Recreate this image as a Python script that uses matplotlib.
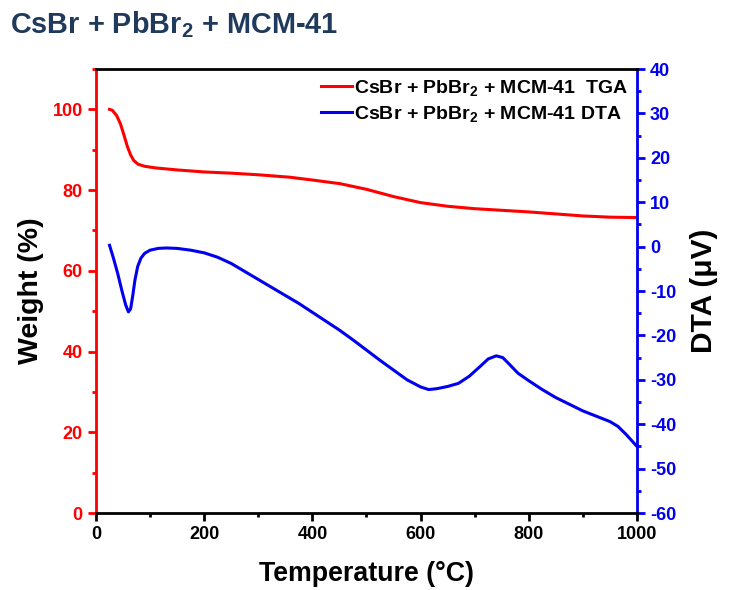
import matplotlib
matplotlib.use("Agg")
import matplotlib.pyplot as plt
from matplotlib.ticker import MultipleLocator

plt.rcParams["font.family"] = ["Liberation Sans", "DejaVu Sans"]
plt.rcParams["mathtext.default"] = "regular"
plt.rcParams["axes.unicode_minus"] = False

# TGA curve (weight %, left axis)
tga_temp = [25, 30, 38, 45, 52, 58, 64, 70, 78, 90, 110, 150, 200, 250, 300, 358, 400,
            451, 500, 550, 600, 650, 700, 750, 800, 850, 900, 950, 1000]
tga_weight = [100, 99.8, 98.5, 96.5, 93.5, 90.8, 88.7, 87.3, 86.4, 85.9, 85.5, 85.0,
              84.5, 84.2, 83.8, 83.2, 82.5, 81.6, 80.2, 78.4, 76.9, 76.0, 75.4, 75.0,
              74.6, 74.1, 73.6, 73.3, 73.2]

# DTA curve (uV, right axis)
dta_temp = [25, 32, 40, 48, 55, 60, 64, 68, 72, 77, 83, 90, 100, 115, 130, 150, 175,
            200, 225, 250, 275, 300, 325, 350, 375, 400, 425, 450, 475, 500, 525, 550,
            575, 600, 615, 630, 650, 670, 690, 710, 725, 740, 752, 765, 780, 800, 825,
            850, 875, 900, 925, 950, 965, 980, 1000]
dta_uv = [0.3, -2.5, -6.0, -10.0, -13.2, -14.7, -14.0, -11.0, -7.5, -4.5, -2.6, -1.5,
          -0.8, -0.4, -0.3, -0.4, -0.8, -1.4, -2.4, -3.8, -5.6, -7.4, -9.2, -11.0,
          -12.8, -14.8, -16.8, -18.8, -21.0, -23.3, -25.6, -27.8, -30.0, -31.6, -32.2,
          -32.0, -31.5, -30.8, -29.2, -27.0, -25.3, -24.6, -25.0, -26.6, -28.5, -30.2,
          -32.2, -34.0, -35.5, -37.0, -38.2, -39.4, -40.5, -42.3, -45.0]

fig = plt.figure(figsize=(7.29, 5.90), dpi=100)
ax = fig.add_axes([0.1317, 0.1305, 0.742, 0.7525])
ax2 = ax.twinx()

ax.plot(tga_temp, tga_weight, color="#ff0000", lw=2.2,
        label=r"CsBr + PbBr$_2$ + MCM-41  TGA")
ax2.plot(dta_temp, dta_uv, color="#0000ee", lw=2.2,
         label=r"CsBr + PbBr$_2$ + MCM-41 DTA")

ax.set_xlim(0, 1000)
ax.set_ylim(0, 110)
ax2.set_ylim(-60, 40)

ax.xaxis.set_major_locator(MultipleLocator(200))
ax.xaxis.set_minor_locator(MultipleLocator(100))
ax.yaxis.set_major_locator(MultipleLocator(20))
ax.yaxis.set_minor_locator(MultipleLocator(10))
ax2.yaxis.set_major_locator(MultipleLocator(10))
ax2.yaxis.set_minor_locator(MultipleLocator(5))

for sp in ("top", "bottom"):
    ax2.spines[sp].set_linewidth(2)
    ax2.spines[sp].set_color("black")
ax2.spines["left"].set_color("#ff0000")
ax2.spines["left"].set_linewidth(2)
ax2.spines["right"].set_color("#0000ee")
ax2.spines["right"].set_linewidth(2)
for sp in ax.spines.values():
    sp.set_visible(False)

ax.tick_params(axis="x", which="major", direction="out", length=6, width=2,
               labelsize=13, colors="black", top=False)
ax.tick_params(axis="x", which="minor", direction="out", length=3, width=2, top=False)
ax.tick_params(axis="y", which="major", direction="out", length=6, width=2,
               labelsize=13, colors="#ff0000")
ax.tick_params(axis="y", which="minor", direction="out", length=3, width=2, colors="#ff0000")
ax2.tick_params(axis="y", which="major", direction="out", length=6, width=2,
                labelsize=13, colors="#0000ee")
ax2.tick_params(axis="y", which="minor", direction="out", length=3, width=2, colors="#0000ee")

for lab in ax.get_xticklabels() + ax.get_yticklabels() + ax2.get_yticklabels():
    lab.set_fontweight("bold")

ax.set_xlabel("Temperature (°C)", fontsize=19.3, fontweight="bold", labelpad=13)
ax.set_ylabel("Weight (%)", fontsize=20.5, fontweight="bold", labelpad=6)
ax2.set_ylabel("DTA (μV)", fontsize=21.5, fontweight="bold", labelpad=10)

h1, l1 = ax.get_legend_handles_labels()
h2, l2 = ax2.get_legend_handles_labels()
leg = ax2.legend(h1 + h2, l1 + l2, loc="upper right", frameon=False,
                 prop={"weight": "bold", "size": 14}, handlelength=1.6,
                 handletextpad=0.1, borderaxespad=0.15, labelspacing=0.3,
                 borderpad=0.3)

fig.text(0.014, 0.958, r"CsBr + PbBr$_2$ + MCM-41", fontsize=20.8, fontweight="bold",
         color="#203a5c", va="center", ha="left")

fig.savefig("out.png", dpi=100)
